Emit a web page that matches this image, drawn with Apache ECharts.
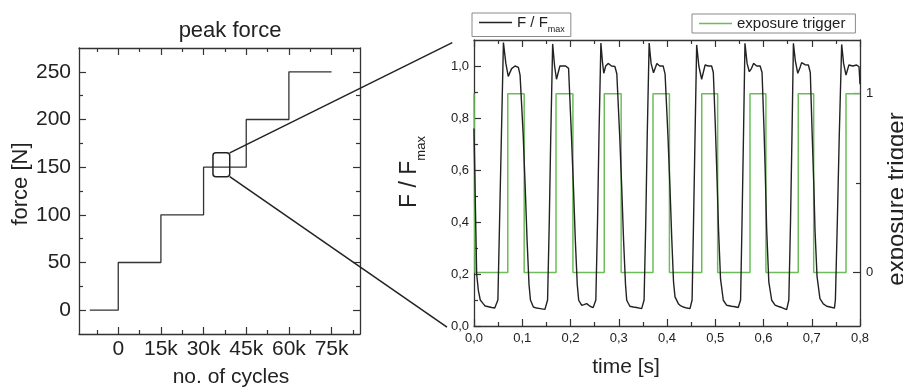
<!DOCTYPE html>
<html>
<head>
<meta charset="utf-8">
<script src="https://cdn.jsdelivr.net/npm/echarts@6/dist/echarts.min.js"></script>
<style>
  html, body { margin: 0; padding: 0; background: #fff; }
  #chart { width: 903px; height: 389px; }
</style>
</head>
<body>
<div id="chart"></div>
<script>
// --- left panel: peak force vs. number of cycles ---
const cycleSteps = [-10000, 0, 15000, 30000, 45000, 60000, 75000];
const forceSteps = [0, 50, 100, 150, 200, 250, 250];
const cycleLabels = [0, 15000, 30000, 45000, 60000, 75000];
const cycleMinor = [-7500, 7500, 22500, 37500, 52500, 67500, 82500];
const forceLabels = [0, 50, 100, 150, 200, 250];
const forceMinor = [25, 75, 125, 175, 225];

// --- right panel: F / Fmax and exposure trigger vs. time ---
const forceTrace = [
  [0.000, 0.76], [0.003, 0.45], [0.0055, 0.20], [0.009, 0.137], [0.013, 0.10], [0.019, 0.086], [0.023, 0.077],
  [0.030, 0.074], [0.037, 0.071], [0.043, 0.069], [0.047, 0.066],
  [0.0495, 0.10], [0.053, 0.40], [0.057, 0.75], [0.061, 1.09], [0.066, 1.01], [0.071, 0.96], [0.078, 0.99],
  [0.085, 1.00], [0.092, 0.995], [0.0955, 0.965],
  [0.102, 0.734], [0.106, 0.54], [0.110, 0.33], [0.114, 0.16], [0.117, 0.10], [0.123, 0.073], [0.130, 0.069],
  [0.137, 0.067], [0.147, 0.064], [0.150, 0.066],
  [0.1525, 0.10], [0.156, 0.40], [0.159, 0.72], [0.163, 1.085], [0.167, 1.0], [0.171, 0.949], [0.178, 1.0],
  [0.184, 1.0], [0.190, 1.0], [0.196, 0.991],
  [0.202, 0.73], [0.206, 0.54], [0.210, 0.33], [0.214, 0.16], [0.217, 0.099], [0.223, 0.08], [0.228, 0.082],
  [0.2335, 0.086], [0.2405, 0.076], [0.247, 0.071], [0.250, 0.073],
  [0.2525, 0.10], [0.256, 0.40], [0.259, 0.73], [0.263, 1.088], [0.266, 1.02], [0.269, 0.972], [0.273, 1.0],
  [0.278, 1.01], [0.285, 1.0], [0.292, 0.998], [0.296, 0.97],
  [0.302, 0.73], [0.306, 0.54], [0.310, 0.33], [0.314, 0.16], [0.3165, 0.099], [0.323, 0.076], [0.330, 0.073],
  [0.337, 0.071], [0.3475, 0.067], [0.350, 0.069],
  [0.3525, 0.10], [0.356, 0.40], [0.359, 0.73], [0.363, 1.088], [0.367, 1.01], [0.372, 0.974], [0.379, 1.01],
  [0.385, 1.0], [0.392, 1.0], [0.396, 0.97],
  [0.402, 0.73], [0.406, 0.54], [0.410, 0.33], [0.4135, 0.17], [0.4166, 0.112], [0.4235, 0.086], [0.428, 0.078],
  [0.434, 0.073], [0.441, 0.069], [0.4477, 0.067], [0.450, 0.07],
  [0.452, 0.10], [0.455, 0.40], [0.458, 0.72], [0.4615, 1.081], [0.466, 1.0], [0.4718, 0.949], [0.479, 1.004],
  [0.486, 1.0], [0.4925, 1.0], [0.496, 0.975],
  [0.500, 0.78], [0.504, 0.55], [0.507, 0.36], [0.511, 0.18], [0.5167, 0.099], [0.5235, 0.08], [0.534, 0.076],
  [0.541, 0.074], [0.5477, 0.071], [0.550, 0.072],
  [0.5525, 0.10], [0.5555, 0.40], [0.5585, 0.73], [0.5616, 1.087], [0.566, 1.01], [0.5706, 0.978], [0.575, 0.99],
  [0.5793, 1.01], [0.586, 1.0], [0.593, 1.0], [0.597, 0.975],
  [0.601, 0.76], [0.6035, 0.60], [0.6066, 0.37], [0.611, 0.17], [0.617, 0.099], [0.624, 0.08], [0.631, 0.075],
  [0.638, 0.071], [0.648, 0.063], [0.650, 0.066],
  [0.6525, 0.10], [0.656, 0.40], [0.659, 0.73], [0.662, 1.087], [0.666, 1.02], [0.671, 0.972], [0.675, 0.99],
  [0.679, 1.013], [0.686, 1.005], [0.693, 1.004], [0.697, 0.975],
  [0.701, 0.73], [0.7045, 0.53], [0.7067, 0.37], [0.711, 0.19], [0.717, 0.105], [0.724, 0.085], [0.731, 0.076],
  [0.738, 0.073], [0.747, 0.069],
  [0.749, 0.10], [0.753, 0.40], [0.757, 0.73], [0.762, 1.083], [0.766, 1.01], [0.771, 0.965], [0.777, 1.004],
  [0.785, 1.0], [0.793, 1.004], [0.798, 0.997], [0.800, 0.93]
];
const triggerTime = [0, 0.002, 0.070, 0.104, 0.170, 0.205, 0.270, 0.305, 0.371, 0.405,
  0.472, 0.505, 0.572, 0.605, 0.672, 0.704, 0.771, 0.800];
const triggerState = [1, 0, 1, 0, 1, 0, 1, 0, 1, 0, 1, 0, 1, 0, 1, 0, 1, 1];
const timeLabels = [0, 0.1, 0.2, 0.3, 0.4, 0.5, 0.6, 0.7, 0.8];
const timeMinor = [0.05, 0.15, 0.25, 0.35, 0.45, 0.55, 0.65, 0.75];
const ratioLabels = [0, 0.2, 0.4, 0.6, 0.8, 1.0];
const ratioMinor = [0.1, 0.3, 0.5, 0.7, 0.9];
const triggerLabels = [0, 1];
const triggerMinor = [0.5];

const FONT = '"Liberation Sans", Arial, sans-serif';
const INK = '#222';
const AXIS = '#333';
const GREEN = '#6cbd5a';

// one framed axis; labels / names are added on top where needed
function axis(gridIndex, position, min, max, ticks, len, line) {
  return {
    type: 'value', gridIndex, position, min, max,
    axisLine: { show: line, onZero: false, lineStyle: { color: AXIS, width: 1.3 } },
    axisTick: { show: true, inside: true, length: len, customValues: ticks, lineStyle: { color: AXIS, width: 1.2 } },
    axisLabel: { show: false },
    splitLine: { show: false },
    silent: true
  };
}

const comma = v => v.toFixed(1).replace('.', ',');
const kilo = v => (v === 0 ? '0' : v / 1000 + 'k');

const xAxes = [
  Object.assign(axis(0, 'bottom', -13800, 85000, cycleLabels, 7, true), {
    axisLabel: { show: true, customValues: cycleLabels, formatter: kilo, margin: 5,
      fontSize: 21, fontFamily: FONT, color: INK },
    name: 'no. of cycles', nameLocation: 'middle', nameGap: 33,
    nameTextStyle: { fontSize: 21, fontFamily: FONT, color: INK, padding: [0, 0, 0, 23] }
  }),
  axis(0, 'bottom', -13800, 85000, cycleMinor, 4, false),
  axis(0, 'top', -13800, 85000, cycleLabels, 7, true),
  axis(0, 'top', -13800, 85000, cycleMinor, 4, false),
  Object.assign(axis(1, 'bottom', 0, 0.8, timeLabels, 7, true), {
    axisLabel: { show: true, customValues: timeLabels, formatter: comma, margin: 6,
      fontSize: 13, fontFamily: FONT, color: INK },
    name: 'time [s]', nameLocation: 'middle', nameGap: 31,
    nameTextStyle: { fontSize: 21, fontFamily: FONT, color: INK, padding: [0, 82, 0, 0] }
  }),
  axis(1, 'bottom', 0, 0.8, timeMinor, 4, false),
  axis(1, 'top', 0, 0.8, timeLabels, 7, true),
  axis(1, 'top', 0, 0.8, timeMinor, 4, false)
];

const yAxes = [
  Object.assign(axis(0, 'left', -25, 275, forceLabels, 7, true), {
    axisLabel: { show: true, customValues: forceLabels, margin: 8,
      fontSize: 21, fontFamily: FONT, color: INK },
    name: 'force [N]', nameLocation: 'middle', nameGap: 47, nameRotate: 90,
    nameTextStyle: { fontSize: 22, fontFamily: FONT, color: INK, padding: [0, 0, 0, 14] }
  }),
  axis(0, 'left', -25, 275, forceMinor, 4, false),
  axis(0, 'right', -25, 275, forceLabels, 7, true),
  axis(0, 'right', -25, 275, forceMinor, 4, false),
  Object.assign(axis(1, 'left', 0, 1.1, ratioLabels, 7, true), {
    axisLabel: { show: true, customValues: ratioLabels, formatter: comma, margin: 5,
      fontSize: 13, fontFamily: FONT, color: INK },
    name: 'F / F{sub|max}', nameLocation: 'middle', nameGap: 46, nameRotate: 90,
    nameTextStyle: { fontSize: 23, fontFamily: FONT, color: INK, padding: [0, 0, 0, 22],
      rich: { sub: { fontSize: 13, fontFamily: FONT, color: INK, verticalAlign: 'bottom', lineHeight: 36 } } }
  }),
  axis(1, 'left', 0, 1.1, ratioMinor, 4, false),
  Object.assign(axis(1, 'right', -0.3, 1.3, triggerLabels, 7, true), {
    axisLabel: { show: true, customValues: triggerLabels, margin: 6,
      fontSize: 13, fontFamily: FONT, color: INK },
    name: 'exposure trigger', nameLocation: 'middle', nameGap: 25, nameRotate: 90,
    nameTextStyle: { fontSize: 24, fontFamily: FONT, color: INK, padding: [0, 32, 0, 0] }
  }),
  axis(1, 'right', -0.3, 1.3, triggerMinor, 4, false)
];

const legendText = {
  fontSize: 15, fontFamily: FONT, color: INK,
  rich: { sub: { fontSize: 9, fontFamily: FONT, color: INK, verticalAlign: 'bottom', lineHeight: 24 } }
};

const chart = echarts.init(document.getElementById('chart'));

chart.setOption({
  animation: false,
  backgroundColor: '#fff',
  title: {
    text: 'peak force', left: 225, top: 15, textAlign: 'center',
    textStyle: { fontSize: 22, fontWeight: 'normal', fontFamily: FONT, color: INK }
  },
  legend: [
    {
      data: ['F / Fmax'], left: 472, top: 13, icon: 'rect',
      borderColor: '#8a8a8a', borderWidth: 1, padding: [2, 6, 2, 7],
      itemWidth: 33, itemHeight: 1.5, itemGap: 6,
      formatter: () => 'F / F{sub|max}', textStyle: legendText
    },
    {
      data: ['exposure trigger'], left: 692, top: 14, icon: 'rect',
      borderColor: '#8a8a8a', borderWidth: 1, padding: [2, 10, 2, 7],
      itemWidth: 33, itemHeight: 1.5, itemGap: 6,
      textStyle: legendText
    }
  ],
  grid: [
    { left: 79, top: 48, width: 281, height: 286, outerBoundsMode: 'none' },
    { left: 474, top: 40, width: 386, height: 286, outerBoundsMode: 'none' }
  ],
  xAxis: xAxes,
  yAxis: yAxes,
  series: [
    {
      name: 'peak force', type: 'line', step: 'end', xAxisIndex: 0, yAxisIndex: 0,
      symbol: 'none', data: cycleSteps.map((c, i) => [c, forceSteps[i]]),
      lineStyle: { color: AXIS, width: 1.3 }
    },
    {
      name: 'F / Fmax', type: 'line', xAxisIndex: 4, yAxisIndex: 4,
      symbol: 'none', data: forceTrace,
      lineStyle: { color: INK, width: 1.4 }, itemStyle: { color: INK }, z: 3
    },
    {
      name: 'exposure trigger', type: 'line', step: 'end', xAxisIndex: 4, yAxisIndex: 6,
      symbol: 'none', data: triggerTime.map((t, i) => [t, triggerState[i]]),
      lineStyle: { color: GREEN, width: 1.5 }, itemStyle: { color: GREEN }, z: 2
    }
  ]
});

// zoom box on the left panel and the two lines to the right panel
const boxA = chart.convertToPixel({ seriesIndex: 0 }, [33300, 165]);
const boxB = chart.convertToPixel({ seriesIndex: 0 }, [39200, 140]);
const endTop = chart.convertToPixel({ seriesIndex: 1 }, [-0.045, 1.09]);
const endBottom = chart.convertToPixel({ seriesIndex: 1 }, [-0.056, -0.004]);

chart.setOption({
  graphic: [
    {
      type: 'rect', z: 100,
      shape: { x: boxA[0], y: boxA[1], width: boxB[0] - boxA[0], height: boxB[1] - boxA[1], r: 3 },
      style: { fill: 'none', stroke: INK, lineWidth: 1.5 }
    },
    {
      type: 'line', z: 100,
      shape: { x1: boxB[0], y1: boxA[1], x2: endTop[0], y2: endTop[1] },
      style: { stroke: INK, lineWidth: 1.5 }
    },
    {
      type: 'line', z: 100,
      shape: { x1: boxB[0], y1: boxB[1], x2: endBottom[0], y2: endBottom[1] },
      style: { stroke: INK, lineWidth: 1.5 }
    }
  ]
});

window.addEventListener('resize', () => chart.resize());
</script>
</body>
</html>
